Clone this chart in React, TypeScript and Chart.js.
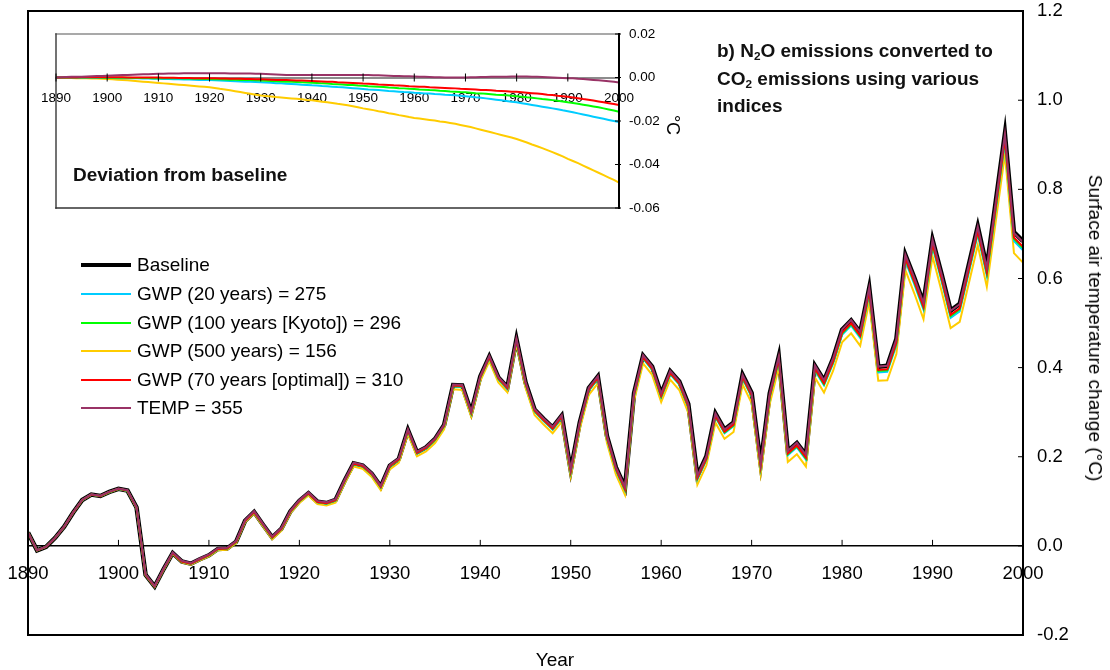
import React, { useEffect, useRef } from 'react';
import { Chart, registerables } from 'chart.js';

Chart.register(...registerables);

// ---------------- DATA ----------------
const START_YEAR = 1890;
const years = Array.from({ length: 111 }, (_, i) => START_YEAR + i);

// Baseline surface air temperature change (°C), 1890-2000
const baseline = [
  0.030, -0.010, -0.002, 0.018, 0.043, 0.075, 0.103, 0.115, 0.112, 0.121,
  0.128, 0.124, 0.086, -0.065, -0.091, -0.052, -0.016, -0.035, -0.040, -0.030,
  -0.021, -0.007, -0.006, 0.009, 0.056, 0.076, 0.047, 0.019, 0.038, 0.077,
  0.101, 0.118, 0.099, 0.096, 0.103, 0.146, 0.185, 0.180, 0.162, 0.133,
  0.180, 0.195, 0.260, 0.210, 0.221, 0.240, 0.271, 0.361, 0.360, 0.300,
  0.380, 0.425, 0.378, 0.356, 0.464, 0.367, 0.306, 0.285, 0.266, 0.292,
  0.170, 0.277, 0.354, 0.380, 0.247, 0.176, 0.131, 0.343, 0.427, 0.402,
  0.341, 0.392, 0.369, 0.318, 0.157, 0.201, 0.297, 0.261, 0.277, 0.384,
  0.343, 0.184, 0.342, 0.425, 0.213, 0.231, 0.204, 0.404, 0.371, 0.420,
  0.485, 0.506, 0.479, 0.579, 0.402, 0.404, 0.464, 0.653, 0.601, 0.545,
  0.687, 0.610, 0.528, 0.543, 0.630, 0.717, 0.625, 0.775, 0.925, 0.704,
  0.684,
];

// Deviations from baseline, in units of 1e-4 °C
const DEV_UNIT = 1e-4;
const devGwp20 = [
  0, 0, 0, -1, -1, -1, -1, -1, -2, -2,
  -2, -2, -3, -3, -3, -4, -4, -5, -5, -6,
  -6, -7, -7, -8, -8, -9, -9, -10, -11, -11,
  -12, -13, -14, -15, -16, -17, -18, -19, -20, -21,
  -22, -23, -24, -26, -27, -29, -30, -31, -33, -34,
  -36, -37, -39, -40, -42, -44, -45, -47, -49, -51,
  -53, -55, -56, -58, -60, -62, -63, -65, -67, -68,
  -70, -71, -73, -74, -76, -77, -79, -80, -82, -84,
  -86, -88, -91, -93, -96, -99, -102, -105, -108, -111,
  -114, -118, -122, -126, -130, -134, -138, -142, -146, -151,
  -155, -160, -165, -170, -175, -180, -185, -190, -195, -200,
  -205,
];
const devGwp100 = [
  0, 0, 0, 0, 0, 0, 0, 0, 0, -1,
  -1, -1, -1, -1, -1, -2, -2, -2, -2, -3,
  -3, -3, -4, -4, -4, -5, -5, -6, -6, -7,
  -7, -8, -8, -9, -10, -10, -11, -12, -12, -13,
  -14, -15, -16, -17, -18, -19, -20, -21, -22, -23,
  -24, -25, -27, -28, -30, -31, -32, -34, -35, -37,
  -38, -40, -41, -43, -44, -46, -47, -49, -50, -52,
  -53, -55, -56, -58, -59, -61, -62, -64, -65, -67,
  -68, -70, -72, -73, -75, -77, -79, -80, -82, -84,
  -86, -88, -91, -93, -96, -99, -101, -104, -107, -110,
  -114, -117, -121, -125, -129, -133, -137, -142, -147, -152,
  -157,
];
const devGwp500 = [
  0, -1, -1, -2, -3, -3, -4, -5, -5, -6,
  -7, -8, -10, -11, -13, -15, -17, -19, -21, -23,
  -25, -27, -29, -31, -33, -35, -37, -39, -41, -43,
  -45, -48, -52, -55, -59, -63, -67, -71, -75, -79,
  -83, -85, -87, -90, -92, -94, -96, -98, -100, -103,
  -105, -108, -111, -114, -117, -121, -124, -128, -132, -137,
  -142, -146, -150, -155, -159, -164, -168, -173, -177, -182,
  -186, -189, -192, -195, -198, -202, -205, -209, -213, -218,
  -223, -228, -234, -240, -246, -252, -258, -264, -270, -276,
  -283, -291, -299, -308, -316, -325, -334, -343, -353, -363,
  -374, -384, -394, -405, -416, -427, -438, -449, -460, -471,
  -483,
];
const devGwp70 = [
  0, 0, 0, 0, 0, 1, 1, 1, 1, 1,
  1, 1, 1, 1, 0, 0, 0, 0, 0, 0,
  0, -1, -1, -1, -2, -2, -2, -3, -3, -3,
  -4, -4, -5, -5, -6, -6, -6, -7, -7, -8,
  -8, -9, -10, -11, -11, -12, -13, -14, -14, -15,
  -16, -17, -18, -19, -20, -22, -23, -24, -25, -26,
  -28, -29, -30, -32, -33, -34, -36, -37, -38, -40,
  -41, -42, -43, -45, -46, -47, -48, -49, -50, -52,
  -53, -54, -55, -57, -58, -59, -61, -62, -63, -65,
  -66, -68, -70, -72, -74, -76, -79, -81, -84, -86,
  -89, -92, -95, -99, -102, -106, -110, -114, -118, -122,
  -127,
];
const devTemp = [
  0, 1, 2, 3, 3, 4, 5, 6, 7, 7,
  8, 9, 10, 11, 12, 13, 14, 15, 15, 16,
  17, 17, 18, 18, 18, 19, 19, 19, 19, 19,
  19, 19, 19, 19, 18, 18, 18, 18, 18, 17,
  17, 16, 15, 14, 13, 12, 12, 12, 12, 12,
  12, 12, 12, 12, 12, 12, 12, 11, 11, 11,
  11, 11, 10, 10, 9, 8, 7, 7, 6, 6,
  5, 4, 3, 2, 1, 1, 0, 0, 0, 0,
  0, 1, 1, 2, 2, 3, 3, 4, 4, 5,
  5, 5, 5, 4, 3, 2, 1, 0, -1, -2,
  -3, -4, -6, -7, -9, -11, -13, -15, -17, -20,
  -23,
];

const seriesLabels = [
  'Baseline',
  'GWP (20 years) = 275',
  'GWP (100 years [Kyoto]) = 296',
  'GWP (500 years) = 156',
  'GWP (70 years [optimal]) = 310',
  'TEMP = 355',
];
const seriesColors = ['#000000', '#00CCFF', '#00FF00', '#FFCC00', '#FF0000', '#993366'];
const seriesDevs = [null, devGwp20, devGwp100, devGwp500, devGwp70, devTemp];
// drawing weight: higher drawn first (underneath)
const seriesOrder = [6, 4, 3, 5, 2, 1];

const mainYTicks = { min: -0.2, max: 1.2, step: 0.2 };
const insetYTicks = { min: -0.06, max: 0.02, step: 0.02 };
const xTicks = { min: 1890, max: 2000, step: 10 };

const FONT = '"Liberation Sans", Arial, Helvetica, sans-serif';

// ---------------- PLUGIN ----------------
function makeFramePlugin(o: any) {
  return {
    id: o.id,
    afterDatasetsDraw(chart: any) {
      const { ctx, chartArea: a, scales } = chart;
      const xs = scales.x;
      const ys = scales.y;
      const line = (x1: number, y1: number, x2: number, y2: number, c: string, w: number) => {
        ctx.beginPath();
        ctx.strokeStyle = c;
        ctx.lineWidth = w;
        ctx.moveTo(x1, y1);
        ctx.lineTo(x2, y2);
        ctx.stroke();
      };
      ctx.save();
      ctx.lineCap = 'square';
      line(a.left, a.top, a.right, a.top, o.topColor, o.frameW);
      line(a.left, a.top, a.left, a.bottom, o.leftColor, o.frameW);
      line(a.left, a.bottom, a.right, a.bottom, o.bottomColor, o.frameW);
      line(a.right, a.top, a.right, a.bottom, o.rightColor, o.rightW);
      ctx.lineCap = 'butt';
      const y0 = ys.getPixelForValue(0);
      xs.ticks.forEach((t: any) => {
        const px = xs.getPixelForValue(t.value);
        line(px, y0 - o.xUp, px, y0 + o.xDown, '#000', 1);
      });
      ys.ticks.forEach((t: any) => {
        const py = ys.getPixelForValue(t.value);
        line(a.right - o.yIn, py, a.right + o.yOut, py, '#000', 1);
      });
      ctx.restore();
    },
  };
}

const fmt = (v: number, d: number) => (Math.abs(v) < 1e-9 ? (0).toFixed(d) : Number(v).toFixed(d));

export default function App() {
  const mainRef = useRef<HTMLCanvasElement>(null);
  const insetRef = useRef<HTMLCanvasElement>(null);

  useEffect(() => {
    const mainDatasets = seriesLabels.map((label, s) => ({
      label,
      data: years.map((x, i) => ({
        x,
        y: baseline[i] + (seriesDevs[s] ? (seriesDevs[s] as number[])[i] * DEV_UNIT : 0),
      })),
      borderColor: seriesColors[s],
      borderWidth: s === 0 ? 4.5 : 2,
      pointRadius: 0,
      tension: 0,
      fill: false,
      order: seriesOrder[s],
    }));

    const main = new Chart(mainRef.current as HTMLCanvasElement, {
      type: 'line',
      data: { datasets: mainDatasets },
      options: {
        responsive: false,
        animation: false,
        devicePixelRatio: 1,
        events: [],
        layout: { padding: { left: 28, top: 11, right: 0, bottom: 35 } },
        plugins: { legend: { display: false }, tooltip: { enabled: false } },
        scales: {
          x: {
            type: 'linear',
            position: { y: 0 },
            min: xTicks.min,
            max: xTicks.max,
            grid: { display: false, drawTicks: true, tickLength: 17, tickColor: 'rgba(0,0,0,0)' },
            border: { display: true, color: '#000', width: 1.5 },
            ticks: {
              stepSize: xTicks.step,
              autoSkip: false,
              maxRotation: 0,
              padding: 0,
              color: '#000',
              font: { family: FONT, size: 18.5 },
              callback: (v: any) => String(v),
            },
          },
          y: {
            type: 'linear',
            position: 'right',
            min: mainYTicks.min,
            max: mainYTicks.max,
            afterFit: (scale: any) => {
              scale.width = 87;
            },
            grid: { display: false, drawTicks: true, tickLength: 14, tickColor: 'rgba(0,0,0,0)' },
            border: { display: false },
            ticks: {
              stepSize: mainYTicks.step,
              padding: 0,
              color: '#000',
              font: { family: FONT, size: 18.5 },
              callback: (v: any) => fmt(v, 1),
            },
          },
        },
      } as any,
      plugins: [
        makeFramePlugin({
          id: 'mainFrame',
          topColor: '#000',
          leftColor: '#000',
          bottomColor: '#000',
          rightColor: '#000',
          frameW: 2,
          rightW: 2,
          xUp: 6,
          xDown: 0,
          yIn: 5,
          yOut: 0,
        }),
      ],
    });

    const insetDatasets = seriesLabels
      .map((label, s) => ({ label, s }))
      .filter((d) => seriesDevs[d.s])
      .map(({ label, s }) => ({
        label,
        data: years.map((x, i) => ({ x, y: (seriesDevs[s] as number[])[i] * DEV_UNIT })),
        borderColor: seriesColors[s],
        borderWidth: 2,
        pointRadius: 0,
        tension: 0,
        fill: false,
        order: seriesOrder[s],
      }));

    const inset = new Chart(insetRef.current as HTMLCanvasElement, {
      type: 'line',
      data: { datasets: insetDatasets },
      options: {
        responsive: false,
        animation: false,
        devicePixelRatio: 1,
        events: [],
        layout: { padding: { left: 26, top: 14, right: 0, bottom: 12 } },
        plugins: { legend: { display: false }, tooltip: { enabled: false } },
        scales: {
          x: {
            type: 'linear',
            position: { y: 0 },
            min: xTicks.min,
            max: xTicks.max,
            grid: { display: false, drawTicks: true, tickLength: 12.5, tickColor: 'rgba(0,0,0,0)' },
            border: { display: true, color: '#8c8c8c', width: 2 },
            ticks: {
              stepSize: xTicks.step,
              autoSkip: false,
              maxRotation: 0,
              padding: 0,
              color: '#000',
              font: { family: FONT, size: 13.5 },
              callback: (v: any) => String(v),
            },
          },
          y: {
            type: 'linear',
            position: 'right',
            min: insetYTicks.min,
            max: insetYTicks.max,
            afterFit: (scale: any) => {
              scale.width = 91;
            },
            grid: { display: false, drawTicks: true, tickLength: 10, tickColor: 'rgba(0,0,0,0)' },
            border: { display: false },
            ticks: {
              stepSize: insetYTicks.step,
              padding: 0,
              color: '#000',
              font: { family: FONT, size: 13.5 },
              callback: (v: any) => fmt(v, 2),
            },
          },
        },
      } as any,
      plugins: [
        makeFramePlugin({
          id: 'insetFrame',
          topColor: '#8c8c8c',
          leftColor: '#444',
          bottomColor: '#333',
          rightColor: '#000',
          frameW: 1.5,
          rightW: 2,
          xUp: 4,
          xDown: 4,
          yIn: 4,
          yOut: 2,
        }),
      ],
    });

    return () => {
      main.destroy();
      inset.destroy();
    };
  }, []);

  const subStyle: React.CSSProperties = { fontSize: '0.62em', verticalAlign: '-0.22em', lineHeight: 0 };
  const txt: React.CSSProperties = { position: 'absolute', color: '#000', fontFamily: FONT, whiteSpace: 'nowrap' };
  const rowY = [264.5, 294, 322.5, 351, 379.5, 408];

  return (
    <div style={{ position: 'absolute', left: 0, top: 0, width: 1110, height: 670, background: '#fff', overflow: 'hidden' }}>
      <canvas ref={mainRef} width={1110} height={670} style={{ position: 'absolute', left: 0, top: 0, width: 1110, height: 670 }} />
      <canvas ref={insetRef} width={680} height={200} style={{ position: 'absolute', left: 30, top: 20, width: 680, height: 200 }} />

      {/* panel title */}
      <div style={{ ...txt, left: 717, top: 37, fontSize: 19, fontWeight: 'bold', lineHeight: '27.5px', color: '#111' }}>
        b) N<sub style={subStyle}>2</sub>O emissions converted to
        <br />
        CO<sub style={subStyle}>2</sub> emissions using various
        <br />
        indices
      </div>

      {/* inset caption */}
      <div style={{ ...txt, left: 73, top: 175, transform: 'translateY(-50%)', fontSize: 19, fontWeight: 'bold', lineHeight: '22px', color: '#111' }}>
        Deviation from baseline
      </div>

      {/* inset unit */}
      <div style={{ ...txt, left: 673, top: 125, transform: 'translate(-50%, -50%) rotate(90deg)', fontSize: 18, lineHeight: '20px' }}>
        °C
      </div>

      {/* legend */}
      {seriesLabels.map((label, s) => (
        <React.Fragment key={label}>
          <div
            style={{
              position: 'absolute',
              left: 81,
              width: 50,
              top: rowY[s] - (s === 0 ? 2 : 1),
              height: s === 0 ? 4 : 2,
              background: seriesColors[s],
            }}
          />
          <div style={{ ...txt, left: 137, top: rowY[s], transform: 'translateY(-50%)', fontSize: 19, lineHeight: '22px' }}>
            {label}
          </div>
        </React.Fragment>
      ))}

      {/* axis titles */}
      <div style={{ ...txt, left: 1095, top: 328, transform: 'translate(-50%, -50%) rotate(90deg)', fontSize: 19, lineHeight: '22px' }}>
        Surface air temperature change (°C)
      </div>
      <div style={{ ...txt, left: 555, top: 660, transform: 'translate(-50%, -50%)', fontSize: 19, lineHeight: '22px' }}>
        Year
      </div>
    </div>
  );
}
